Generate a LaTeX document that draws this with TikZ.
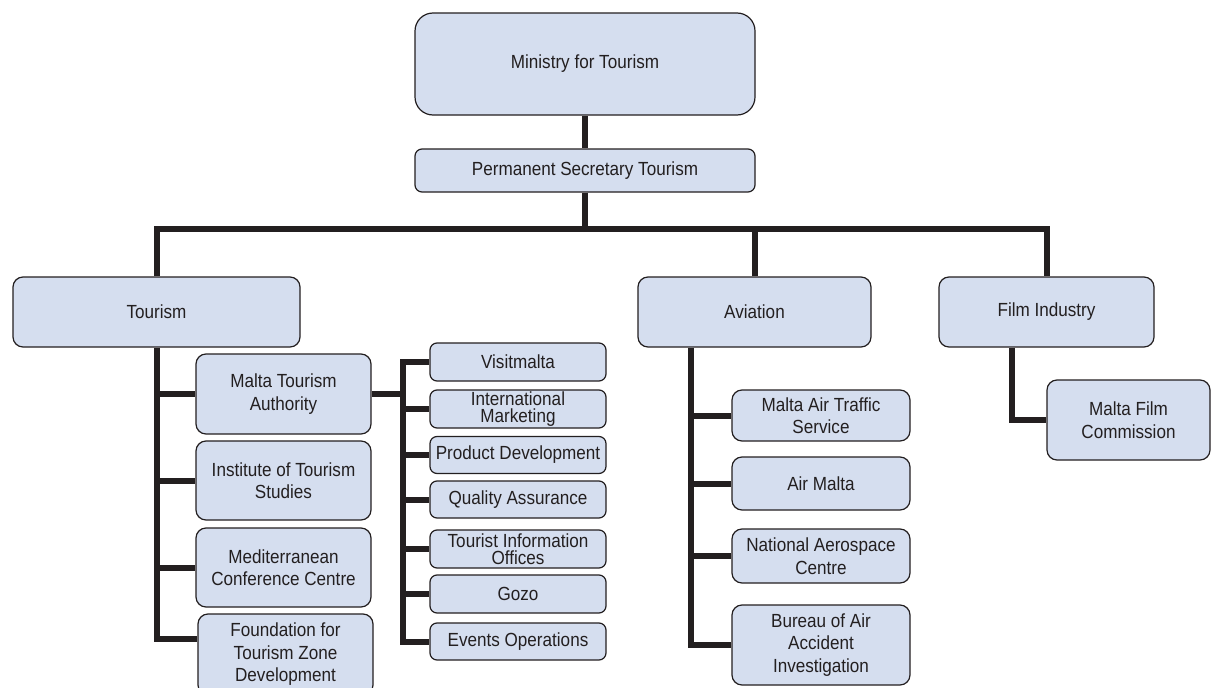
\documentclass[tikz,border=0pt]{standalone}
\usepackage{fontspec}
\setmainfont{Liberation Sans}[FakeStretch=0.9]
\definecolor{boxfill}{HTML}{D5DEEF}
\definecolor{ink}{HTML}{231F20}
\begin{document}
\begin{tikzpicture}[
  x=1pt, y=-1pt,
  unit/.style={rectangle, rounded corners=10pt, draw=ink, line width=1.2pt, fill=boxfill, text=ink,
    align=center, inner sep=0pt, font=\fontsize{19}{22.5}\selectfont},
  subunit/.style={unit, rounded corners=7pt, minimum width=176pt, font=\fontsize{19}{17.5}\selectfont},
  avunit/.style={unit, minimum width=178pt},
  link/.style={draw=ink, line width=6pt}
]
  \clip (0,0) rectangle (1213,688);
  \node[unit, rounded corners=18pt, minimum width=340pt, minimum height=102pt] (ministry) at (585, 64) {Ministry for Tourism};
  \node[unit, rounded corners=7pt, minimum width=340pt, minimum height=43pt] (permsec) at (585, 170.5) {Permanent Secretary Tourism};
  \node[unit, minimum width=287pt, minimum height=70pt] (tourism) at (156.5, 312) {Tourism};
  \node[unit, minimum width=233pt, minimum height=70pt] (aviation) at (754.5, 312) {Aviation};
  \node[unit, minimum width=215pt, minimum height=70pt] (film) at (1046.5, 312) {Film Industry};

  \node[unit, minimum width=175pt, minimum height=80pt] (mta) at (283.5, 394) {Malta Tourism\\Authority};
  \node[unit, minimum width=175pt, minimum height=79pt] (its) at (283.5, 480.5) {Institute of Tourism\\Studies};
  \node[unit, minimum width=175pt, minimum height=79pt] (mcc) at (283.5, 567.5) {Mediterranean\\Conference Centre};
  \node[unit, minimum width=175pt, minimum height=81pt] (found) at (285.5, 654.5) {Foundation for\\Tourism Zone\\Development};

  \node[subunit, minimum height=38pt] (visit) at (518, 362) {Visitmalta};
  \node[subunit, minimum height=38pt] (intl) at (518, 409) {International\\Marketing};
  \node[subunit, minimum height=37pt] (prod) at (518, 455) {Product Development};
  \node[subunit, minimum height=37pt] (qa) at (518, 499.5) {Quality Assurance};
  \node[subunit, minimum height=38pt] (tio) at (518, 549) {Tourist Information\\Offices};
  \node[subunit, minimum height=38pt] (gozo) at (518, 594) {Gozo};
  \node[subunit, minimum height=37pt] (events) at (518, 641.5) {Events Operations};

  \node[avunit, minimum height=51pt] (mats) at (821, 415.5) {Malta Air Traffic\\Service};
  \node[avunit, minimum height=53pt] (airmalta) at (821, 483.5) {Air Malta};
  \node[avunit, minimum height=54pt] (nac) at (821, 556) {National Aerospace\\Centre};
  \node[avunit, minimum height=80pt] (bureau) at (821, 645) {Bureau of Air\\Accident\\Investigation};

  \node[unit, minimum width=163pt, minimum height=80pt] (mfc) at (1128.5, 420) {Malta Film\\Commission};

  \coordinate (bar) at (585, 229);
  \coordinate (mtaspine) at (403, 394);
  \coordinate (avtop) at ([xshift=-63.5pt]aviation.south);

  \draw[link] (ministry) -- (permsec);
  \draw[link] (permsec) -- (bar);
  \draw[link] (tourism.north) |- (bar) -| (film.north);
  \draw[link] (aviation.north) -- (aviation.north |- bar);

  \draw[link] (tourism.south) |- ([yshift=16pt]found.west);
  \foreach \n in {mta, its, mcc}
    \draw[link] (tourism.south |- \n.west) -- (\n.west);

  \draw[link] (mta.east) -- (mtaspine);
  \draw[link] (visit.west) -| (mtaspine) |- (events.west);
  \foreach \n in {intl, prod, qa, tio, gozo}
    \draw[link] (mtaspine |- \n.west) -- (\n.west);

  \draw[link] (avtop) |- (bureau.west);
  \foreach \n in {mats, airmalta, nac}
    \draw[link] (avtop |- \n.west) -- (\n.west);

  \draw[link] ([xshift=-34.5pt]film.south) |- (mfc.west);
\end{tikzpicture}
\end{document}
